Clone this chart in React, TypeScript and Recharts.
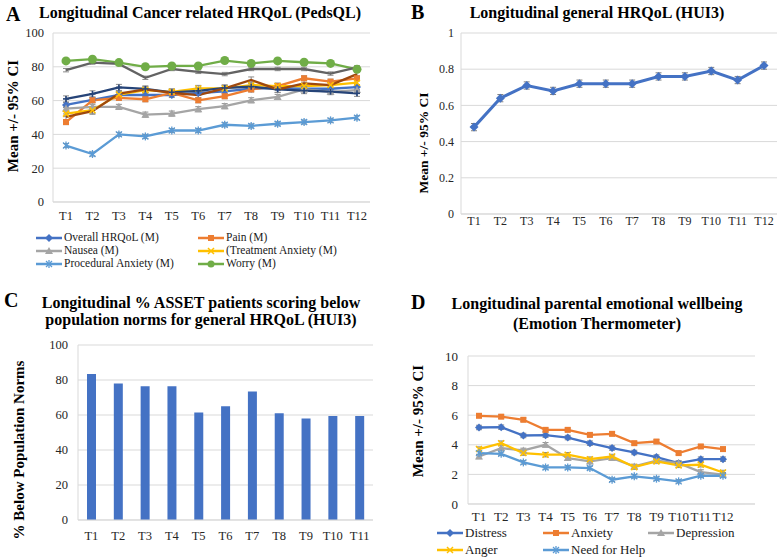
import React from 'react';
import { LineChart, Line, BarChart, Bar, XAxis, YAxis, CartesianGrid, ErrorBar } from 'recharts';

const FONT = '"Liberation Serif", "DejaVu Serif", "Times New Roman", Times, serif';
const GRID = '#d9d9d9';
const TICK = '#262626';

// ---------- Panel A ----------
const catA = ['T1', 'T2', 'T3', 'T4', 'T5', 'T6', 'T7', 'T8', 'T9', 'T10', 'T11', 'T12'];
const aOverall = [57.4, 60.4, 63.3, 63.3, 63.3, 64.5, 65.5, 67, 67.5, 67, 67, 68];
const aPain = [47.3, 60.2, 61.6, 60.8, 64.6, 60.2, 62.6, 66.6, 68.6, 73.2, 71.2, 73.2];
const aNausea = [55.3, 56.3, 56.3, 51.7, 52.3, 54.9, 56.7, 60.2, 62.2, 66.6, 65.2, 66.2];
const aTreatAnx = [52.3, 54.3, 63.6, 66.2, 65.2, 67.2, 67.2, 69.2, 68.6, 68.6, 69.2, 70.6];
const aProcAnx = [33.4, 28.4, 40, 38.8, 42.3, 42.3, 45.7, 45, 46.3, 47.3, 48.3, 49.9];
const aWorry = [83.5, 84.5, 82.5, 80, 80.5, 80.5, 83.7, 82, 83.5, 82.7, 82, 78.5];
const aExtraNavy = [61, 64, 67.8, 66.9, 64.9, 65.8, 67.5, 68.2, 66.7, 65.9, 65.3, 64.3];
const aExtraBrown = [50.3, 53.7, 64.2, 66.6, 64.6, 63.2, 67.2, 72.2, 66.6, 70.2, 69.2, 75.7];
const aExtraGray = [78, 82.5, 81.7, 73.5, 78.7, 77, 75.7, 78.7, 78.7, 78.7, 76, 79.7];
const aTicks = [0, 20, 40, 60, 80, 100];

const aNames = ['Overall HRQoL (M)', 'Pain (M)', 'Nausea (M)', '(Treatment Anxiety (M)', 'Procedural Anxiety (M)', 'Worry (M)', 'extraNavy', 'extraBrown', 'extraGray'];
const aValues = [aOverall, aPain, aNausea, aTreatAnx, aProcAnx, aWorry, aExtraNavy, aExtraBrown, aExtraGray];
const aColors = ['#4472C4', '#ED7D31', '#A5A5A5', '#FFC000', '#5B9BD5', '#70AD47', '#264478', '#9E480E', '#636363'];
const aShapes = ['diamond', 'square', 'triangle', 'x', 'star', 'circle', 'plus', 'none', 'none'];
const aErr = [1.5, 1.5, 1.5, 1.8, 1.2, 1.0, 1.8, 1.8, 1.0];

// ---------- Panel B ----------
const catB = ['T1', 'T2', 'T3', 'T4', 'T5', 'T6', 'T7', 'T8', 'T9', 'T10', 'T11', 'T12'];
const hui3 = [0.48, 0.64, 0.71, 0.68, 0.72, 0.72, 0.72, 0.76, 0.76, 0.79, 0.74, 0.82];
const hui3Err = [0.02, 0.02, 0.02, 0.02, 0.02, 0.02, 0.02, 0.02, 0.02, 0.02, 0.02, 0.02];
const bTicks = [0, 0.1, 0.2, 0.3, 0.4, 0.5, 0.6, 0.7, 0.8, 0.9, 1];

// ---------- Panel C ----------
const catC = ['T1', 'T2', 'T3', 'T4', 'T5', 'T6', 'T7', 'T8', 'T9', 'T10', 'T11'];
const belowNorms = [83.5, 78, 76.5, 76.5, 61.5, 65, 73.5, 61, 58, 59.5, 59.5];
const cTicks = [0, 10, 20, 30, 40, 50, 60, 70, 80, 90, 100];

// ---------- Panel D ----------
const catD = ['T1', 'T2', 'T3', 'T4', 'T5', 'T6', 'T7', 'T8', 'T9', 'T10', 'T11', 'T12'];
const dDistress = [5.17, 5.19, 4.63, 4.65, 4.49, 4.11, 3.78, 3.48, 3.17, 2.76, 3.03, 3.03];
const dAnxiety = [5.96, 5.9, 5.69, 5.01, 5.01, 4.67, 4.74, 4.11, 4.22, 3.44, 3.89, 3.71];
const dDepression = [3.21, 3.78, 3.62, 4.0, 3.1, 2.88, 3.1, 2.54, 2.92, 2.76, 2.16, 1.98];
const dAnger = [3.71, 4.11, 3.44, 3.33, 3.33, 3.03, 3.21, 2.49, 2.88, 2.61, 2.65, 2.13];
const dHelp = [3.44, 3.39, 2.81, 2.47, 2.47, 2.43, 1.64, 1.87, 1.71, 1.53, 1.91, 1.91];
const dTicks = [0, 2, 4, 6, 8, 10];

const dNames = ['Distress', 'Anxiety', 'Depression', 'Anger', 'Need for Help'];
const dValues = [dDistress, dAnxiety, dDepression, dAnger, dHelp];
const dColors = ['#4472C4', '#ED7D31', '#A5A5A5', '#FFC000', '#5B9BD5'];
const dShapes = ['diamond', 'square', 'triangle', 'x', 'star'];
const dErr = [0.15, 0.12, 0.15, 0.15, 0.12];

// ---------- tables ----------
const dataA = catA.map((c, i) => {
  const row: any = { cat: c };
  aValues.forEach((arr, s) => {
    row['s' + s] = arr[i];
    row['e' + s] = aErr[s];
  });
  return row;
});
const dataB = catB.map((c, i) => ({ cat: c, v: hui3[i], e: hui3Err[i] }));
const dataC = catC.map((c, i) => ({ cat: c, v: belowNorms[i] }));
const dataD = catD.map((c, i) => {
  const row: any = { cat: c };
  dValues.forEach((arr, s) => {
    row['s' + s] = arr[i];
    row['e' + s] = dErr[s];
  });
  return row;
});

// ---------- markers ----------
function MarkerGlyph({ shape, color, size, cx, cy }: any) {
  const s = size / 2;
  switch (shape) {
    case 'diamond':
      return <polygon points={`${cx},${cy - s - 1} ${cx + s + 1},${cy} ${cx},${cy + s + 1} ${cx - s - 1},${cy}`} fill={color} />;
    case 'square':
      return <rect x={cx - s} y={cy - s} width={size} height={size} fill={color} />;
    case 'triangle':
      return <polygon points={`${cx},${cy - s - 1} ${cx + s + 1},${cy + s} ${cx - s - 1},${cy + s}`} fill={color} />;
    case 'x':
      return (
        <g stroke={color} strokeWidth={1.5}>
          <line x1={cx - s} y1={cy - s} x2={cx + s} y2={cy + s} />
          <line x1={cx - s} y1={cy + s} x2={cx + s} y2={cy - s} />
        </g>
      );
    case 'star':
      return (
        <g stroke={color} strokeWidth={1.3}>
          <line x1={cx - s} y1={cy - s} x2={cx + s} y2={cy + s} />
          <line x1={cx - s} y1={cy + s} x2={cx + s} y2={cy - s} />
          <line x1={cx} y1={cy - s - 1} x2={cx} y2={cy + s + 1} />
        </g>
      );
    case 'circle':
      return <circle cx={cx} cy={cy} r={s + 0.5} fill={color} />;
    case 'plus':
      return (
        <g stroke={color} strokeWidth={1.6}>
          <line x1={cx - s} y1={cy} x2={cx + s} y2={cy} />
          <line x1={cx} y1={cy - s} x2={cx} y2={cy + s} />
        </g>
      );
    default:
      return null;
  }
}

function makeDot(shape: string, color: string, size: number, prefix: string) {
  return (p: any) => {
    const k = `${prefix}-${p.index}`;
    if (shape === 'none' || p.cx == null || p.cy == null || p.value == null) return <g key={k} />;
    return (
      <g key={k}>
        <MarkerGlyph shape={shape} color={color} size={size} cx={p.cx} cy={p.cy} />
      </g>
    );
  };
}

function LegendItem({ color, shape, label, left, top, fontSize }: any) {
  return (
    <div style={{ position: 'absolute', left, top, height: 11, display: 'flex', alignItems: 'center', whiteSpace: 'nowrap', fontFamily: FONT, fontSize, color: '#1a1a1a', lineHeight: '11px' }}>
      <svg width={26} height={10} style={{ marginRight: 2 }}>
        <line x1={0} y1={5} x2={26} y2={5} stroke={color} strokeWidth={2.5} />
        <MarkerGlyph shape={shape} color={color} size={6} cx={13} cy={5} />
      </svg>
      <span>{label}</span>
    </div>
  );
}

const titleStyle: any = { position: 'absolute', fontFamily: FONT, fontWeight: 'bold', color: '#000', whiteSpace: 'nowrap', lineHeight: 1 };

function VLabel({ text, cx, cy, fontSize }: any) {
  return (
    <div style={{ ...titleStyle, left: cx, top: cy, fontSize, transform: 'translate(-50%, -50%) rotate(-90deg)' }}>{text}</div>
  );
}

const tickA = { fontFamily: FONT, fontSize: 12.5, fill: TICK };

export default function App() {
  return (
    <div style={{ position: 'absolute', left: 0, top: 0, width: 780, height: 557, background: '#fff', overflow: 'hidden', fontFamily: FONT }}>
      {/* ---------- Panel A ---------- */}
      <div style={{ ...titleStyle, left: 6, top: 4, fontSize: 20 }}>A</div>
      <div style={{ ...titleStyle, left: 200, top: 5, fontSize: 16, transform: 'translateX(-50%)' }}>Longitudinal Cancer related HRQoL (PedsQL)</div>
      <VLabel text="Mean +/- 95% CI" cx={13} cy={116} fontSize={15} />
      <div style={{ position: 'absolute', left: 0, top: 0 }}>
        <LineChart width={380} height={225} data={dataA} margin={{ top: 33, right: 10, left: 0, bottom: 0 }}>
          <CartesianGrid vertical={false} stroke={GRID} />
          <XAxis dataKey="cat" height={23} padding={{ left: 13, right: 13 }} tickLine={false} tickSize={0} tickMargin={9} axisLine={{ stroke: GRID }} tick={tickA} interval={0} />
          <YAxis width={53} domain={[0, 100]} ticks={aTicks} tickLine={false} tickSize={0} tickMargin={9} axisLine={{ stroke: GRID }} tick={tickA} />
          {aNames.map((n, s) => (
            <Line key={n} dataKey={'s' + s} stroke={aColors[s]} strokeWidth={2.3} isAnimationActive={false}
              dot={makeDot(aShapes[s], aColors[s], s === 5 ? 8 : 6, 'a' + s)} activeDot={false}>
              <ErrorBar dataKey={'e' + s} direction="y" width={3} stroke="#8c8c8c" strokeWidth={1} />
            </Line>
          ))}
        </LineChart>
      </div>
      <LegendItem color={aColors[0]} shape={aShapes[0]} label={aNames[0]} left={36} top={232} fontSize={11.5} />
      <LegendItem color={aColors[1]} shape={aShapes[1]} label={aNames[1]} left={198} top={232} fontSize={11.5} />
      <LegendItem color={aColors[2]} shape={aShapes[2]} label={aNames[2]} left={36} top={245} fontSize={11.5} />
      <LegendItem color={aColors[3]} shape={aShapes[3]} label={aNames[3]} left={198} top={245} fontSize={11.5} />
      <LegendItem color={aColors[4]} shape={aShapes[4]} label={aNames[4]} left={36} top={258} fontSize={11.5} />
      <LegendItem color={aColors[5]} shape={aShapes[5]} label={aNames[5]} left={198} top={258} fontSize={11.5} />

      {/* ---------- Panel B ---------- */}
      <div style={{ ...titleStyle, left: 411, top: 2, fontSize: 20 }}>B</div>
      <div style={{ ...titleStyle, left: 597, top: 5, fontSize: 16, transform: 'translateX(-50%)' }}>Longitudinal general HRQoL (HUI3)</div>
      <VLabel text="Mean +/- 95% CI" cx={424} cy={143} fontSize={13.5} />
      <div style={{ position: 'absolute', left: 400, top: 0 }}>
        <LineChart width={380} height={240} data={dataB} margin={{ top: 33, right: 3, left: 0, bottom: 0 }}>
          <CartesianGrid vertical={false} stroke={GRID} />
          <XAxis dataKey="cat" height={26} padding={{ left: 13, right: 13 }} tickLine={false} tickSize={0} tickMargin={2} axisLine={{ stroke: GRID }} tick={{ ...tickA, fontSize: 12 }} interval={0} />
          <YAxis width={61} domain={[0, 1]} ticks={bTicks} tickLine={false} tickSize={0} tickMargin={7} axisLine={{ stroke: GRID }} tick={{ ...tickA, fontSize: 12 }} tickFormatter={(v: number) => String(Math.round(v * 10) / 10)} />
          <Line dataKey="v" stroke="#4472C4" strokeWidth={3} isAnimationActive={false} dot={makeDot('diamond', '#4472C4', 7, 'b')} activeDot={false}>
            <ErrorBar dataKey="e" direction="y" width={3} stroke="#7f7f7f" strokeWidth={1} />
          </Line>
        </LineChart>
      </div>

      {/* ---------- Panel C ---------- */}
      <div style={{ ...titleStyle, left: 4, top: 290, fontSize: 20 }}>C</div>
      <div style={{ ...titleStyle, left: 201, top: 294, fontSize: 16, transform: 'translateX(-50%)', textAlign: 'center', lineHeight: '17px' }}>
        Longitudinal % ASSET patients scoring below<br />population norms for general HRQoL (HUI3)
      </div>
      <VLabel text="% Below Population Norms" cx={19} cy={450} fontSize={15} />
      <div style={{ position: 'absolute', left: 0, top: 280 }}>
        <BarChart width={390} height={270} data={dataC} margin={{ top: 65, right: 17, left: 0, bottom: 0 }}>
          <CartesianGrid vertical={false} stroke={GRID} />
          <XAxis dataKey="cat" height={30} tickLine={false} tickSize={0} tickMargin={11} axisLine={{ stroke: GRID }} tick={{ ...tickA, fontSize: 12.5 }} interval={0} />
          <YAxis width={78} domain={[0, 100]} ticks={cTicks} tickLine={false} tickSize={0} tickMargin={10} axisLine={{ stroke: GRID }} tick={{ ...tickA, fontSize: 12.5 }} />
          <Bar dataKey="v" fill="#4472C4" barSize={9} isAnimationActive={false} />
        </BarChart>
      </div>

      {/* ---------- Panel D ---------- */}
      <div style={{ ...titleStyle, left: 411, top: 292, fontSize: 20 }}>D</div>
      <div style={{ ...titleStyle, left: 597, top: 294, fontSize: 16, transform: 'translateX(-50%)', textAlign: 'center', lineHeight: '20px' }}>
        Longitudinal parental emotional wellbeing<br />(Emotion Thermometer)
      </div>
      <VLabel text="Mean +/- 95% CI" cx={418} cy={421} fontSize={15} />
      <div style={{ position: 'absolute', left: 390, top: 280 }}>
        <LineChart width={390} height={250} data={dataD} margin={{ top: 76, right: 25, left: 0, bottom: 0 }}>
          <CartesianGrid vertical={false} stroke={GRID} />
          <XAxis dataKey="cat" height={26} padding={{ left: 11, right: 32 }} tickLine={false} tickSize={0} tickMargin={8} axisLine={{ stroke: GRID }} tick={{ ...tickA, fontSize: 13 }} interval={0} />
          <YAxis width={78} domain={[0, 10]} ticks={dTicks} tickLine={false} tickSize={0} tickMargin={10} axisLine={{ stroke: GRID }} tick={{ ...tickA, fontSize: 13 }} />
          {dNames.map((n, s) => (
            <Line key={n} dataKey={'s' + s} stroke={dColors[s]} strokeWidth={2.3} isAnimationActive={false}
              dot={makeDot(dShapes[s], dColors[s], 6, 'd' + s)} activeDot={false}>
              <ErrorBar dataKey={'e' + s} direction="y" width={3} stroke="#8c8c8c" strokeWidth={1} />
            </Line>
          ))}
        </LineChart>
      </div>
      <LegendItem color={dColors[0]} shape={dShapes[0]} label={dNames[0]} left={437} top={527} fontSize={13} />
      <LegendItem color={dColors[1]} shape={dShapes[1]} label={dNames[1]} left={543} top={527} fontSize={13} />
      <LegendItem color={dColors[2]} shape={dShapes[2]} label={dNames[2]} left={648} top={527} fontSize={13} />
      <LegendItem color={dColors[3]} shape={dShapes[3]} label={dNames[3]} left={437} top={544} fontSize={13} />
      <LegendItem color={dColors[4]} shape={dShapes[4]} label={dNames[4]} left={543} top={544} fontSize={13} />
    </div>
  );
}
